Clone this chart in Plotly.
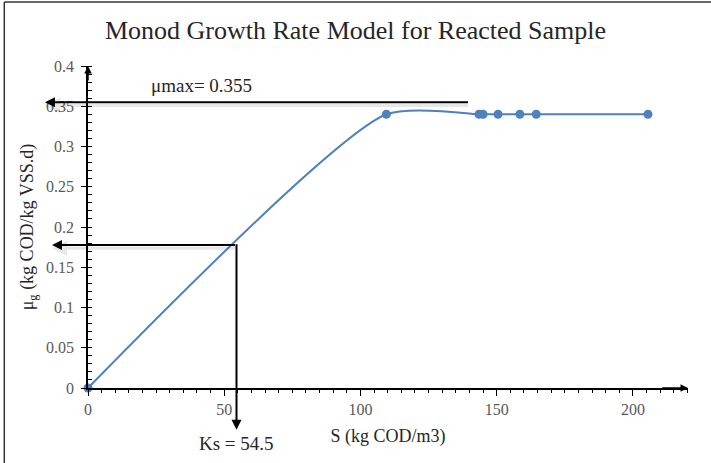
import plotly.graph_objects as go

# data
S_VALUES = [0, 109.5, 143.5, 145, 150.5, 158.5, 164.5, 205.5]
MU_VALUES = [0, 0.34, 0.34, 0.34, 0.34, 0.34, 0.34, 0.34]
MU_MAX = 0.355
KS = 54.5
X_TICKS = [0, 50, 100, 150, 200]
Y_TICKS = [0, 0.05, 0.1, 0.15, 0.2, 0.25, 0.3, 0.35, 0.4]

X_MAX = 220.2
Y_MAX = 0.4
SERIF = "Liberation Serif, Times New Roman, serif"
BLUE = "#4f81bd"
TEXT = "#262626"

fig = go.Figure()
fig.add_trace(
    go.Scatter(
        x=S_VALUES,
        y=MU_VALUES,
        mode="lines+markers",
        line={"color": BLUE, "width": 2, "shape": "spline", "smoothing": 0.65},
        marker={"color": BLUE, "size": 9},
        cliponaxis=False,
        showlegend=False,
    )
)


def arrow(x, y, ax, ay, width=2, color="black"):
    fig.add_annotation(
        x=x, y=y, ax=ax, ay=ay,
        xref="x", yref="y", axref="x", ayref="y",
        text="", showarrow=True,
        arrowhead=2, arrowsize=1, arrowwidth=width, arrowcolor=color,
    )


# soft shadows under the horizontal guide lines
shadow = "rgba(0,0,0,0.09)"
arrow(-15.8, MU_MAX - 0.004, 140, MU_MAX - 0.004, width=3, color=shadow)
arrow(-13.2, MU_MAX / 2 - 0.004, KS, MU_MAX / 2 - 0.004, width=3, color=shadow)

# guide lines for mu max and Ks
arrow(-15.8, MU_MAX, 140, MU_MAX)
arrow(-13.2, MU_MAX / 2, KS, MU_MAX / 2)
arrow(KS, -0.052, KS, MU_MAX / 2 + 0.003)
# axis arrow heads
arrow(X_MAX, 0, X_MAX - 10, 0, width=1.5)
arrow(0, Y_MAX, 0, Y_MAX - 0.02, width=1.5)

fig.add_annotation(
    x=41.5, y=0.376, xref="x", yref="y", text="\u03bcmax= 0.355",
    showarrow=False, font={"family": SERIF, "size": 19, "color": TEXT},
)
fig.add_annotation(
    x=KS, y=-0.171, xref="x", yref="paper", yanchor="middle", text="Ks = 54.5",
    showarrow=False, font={"family": SERIF, "size": 19, "color": TEXT},
)

# outer frame (top and left only)
fig.add_shape(type="line", xref="paper", yref="paper",
              x0=-0.1395, x1=1.1, y0=1.1988, y1=1.1988,
              line={"color": "#333333", "width": 1.5})
fig.add_shape(type="line", xref="paper", yref="paper",
              x0=-0.1395, x1=-0.1395, y0=1.1988, y1=-0.3,
              line={"color": "#333333", "width": 1.5})

axis_font = {"family": SERIF, "size": 16, "color": "#595959"}
fig.update_xaxes(
    range=[0, X_MAX],
    tickvals=X_TICKS,
    automargin=False,
    showgrid=False, zeroline=False,
    showline=True, linecolor="black", linewidth=1.5,
    ticks="outside", ticklen=6, tickcolor="black", tickwidth=1,
    minor={"dtick": 5, "ticks": "outside", "ticklen": 3, "tickcolor": "black", "showgrid": False},
    tickfont=axis_font,
    title={"text": "S (kg COD/m3)", "font": {"family": SERIF, "size": 18, "color": TEXT}, "standoff": 12},
)
fig.update_yaxes(
    range=[0, Y_MAX],
    tickvals=Y_TICKS,
    automargin=False,
    showgrid=False, zeroline=False,
    showline=True, linecolor="black", linewidth=1.5,
    ticks="outside", ticklen=5, tickcolor="black", tickwidth=1,
    ticklabelstandoff=4,
    minor={"dtick": 0.01, "ticks": "inside", "ticklen": 4, "tickcolor": "black", "showgrid": False},
    tickfont=axis_font,
    title={"text": "\u03bc<sub>g</sub> (kg COD/kg VSS.d)", "font": {"family": SERIF, "size": 18, "color": TEXT}, "standoff": 8},
)
fig.update_layout(
    width=711,
    height=463,
    margin={"l": 88, "r": 23, "t": 66, "b": 75, "autoexpand": False},
    paper_bgcolor="white",
    plot_bgcolor="white",
    title={"text": "Monod Growth Rate Model for Reacted Sample", "x": 0.5, "y": 0.935,
           "xanchor": "center", "yanchor": "middle",
           "font": {"family": SERIF, "size": 26, "color": TEXT}},
)

# page body margin would shift the figure by 8px
fig.write_html(
    "out.html",
    config={"displayModeBar": False},
    post_script="document.body.style.margin = '0px';",
)
